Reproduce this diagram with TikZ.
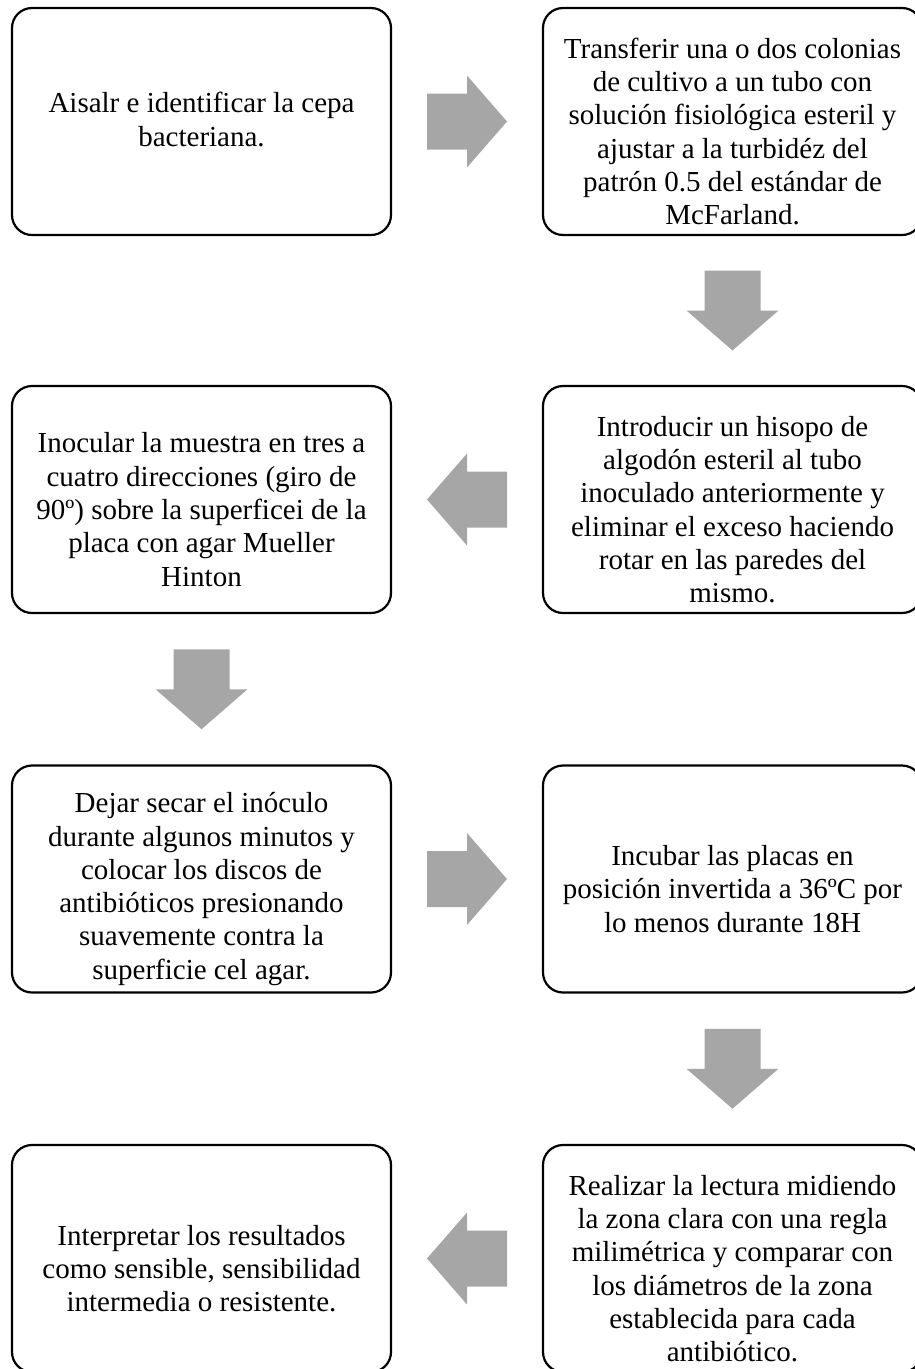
\documentclass[tikz,border=0pt]{standalone}
\usepackage{fontspec}
\setmainfont{Liberation Serif}
\definecolor{arrowgray}{HTML}{A6A6A6}
\begin{document}
\begin{tikzpicture}[x=1pt,y=1pt,
  stepbox/.style={draw=black, line width=2.2pt, rounded corners=20pt, fill=white,
    minimum width=379pt, minimum height=227pt, inner sep=0pt},
  steptext/.style={align=center, inner sep=0pt,
    font=\fontsize{29}{33.3}\selectfont},
  blockarrow/.style={fill=arrowgray, draw=none}]
\useasboundingbox (0,0) rectangle (914,-1369);
\node[stepbox] (b1) at (201.5,-121.5) {};
\node[stepbox] (b2) at (732.5,-121.5) {};
\node[stepbox] (b3) at (732.5,-499.5) {};
\node[stepbox] (b4) at (201.5,-499.5) {};
\node[stepbox] (b5) at (201.5,-879) {};
\node[stepbox] (b6) at (732.5,-879) {};
\node[stepbox] (b7) at (732.5,-1258.5) {};
\node[stepbox] (b8) at (201.5,-1258.5) {};
\node[steptext] (t1) at ([yshift=2pt]b1.center) {Aisalr e identificar la cepa\\bacteriana.};
\node[steptext] (t2) at ([yshift=-10pt]b2.center) {Transferir una o dos colonias\\de cultivo a un tubo con\\solución fisiológica esteril y\\ajustar a la turbidéz del\\patrón 0.5 del estándar de\\McFarland.};
\node[steptext] (t3) at ([yshift=-10pt]b3.center) {Introducir un hisopo de\\algodón esteril al tubo\\inoculado anteriormente y\\eliminar el exceso haciendo\\rotar en las paredes del\\mismo.};
\node[steptext] (t4) at ([yshift=-10pt]b4.center) {Inocular la muestra en tres a\\cuatro direcciones (giro de\\90º) sobre la superficei de la\\placa con agar Mueller\\Hinton};
\node[steptext] (t5) at ([yshift=-10pt]b5.center) {Dejar secar el inóculo\\durante algunos minutos y\\colocar los discos de\\antibióticos presionando\\suavemente contra la\\superficie cel agar.};
\node[steptext] (t6) at ([yshift=-10pt]b6.center) {Incubar las placas en\\posición invertida a 36ºC por\\lo menos durante 18H};
\node[steptext] (t7) at ([yshift=-10pt]b7.center) {Realizar la lectura midiendo\\la zona clara con una regla\\milimétrica y comparar con\\los diámetros de la zona\\establecida para cada\\antibiótico.};
\node[steptext] (t8) at ([yshift=-10pt]b8.center) {Interpretar los resultados\\como sensible, sensibilidad\\intermedia o resistente.};
\newcommand{\blockarr}[3]{%
  \path (#1) -- (#2) coordinate[midway] (m);
  \fill[blockarrow, shift={(m)}, rotate=#3]
    (-40,-28) -- (0,-28) -- (0,-46) -- (40,0) -- (0,46) -- (0,28) -- (-40,28) -- cycle;}
\blockarr{b1.east}{b2.west}{0}
\blockarr{b2.south}{b3.north}{-90}
\blockarr{b3.west}{b4.east}{180}
\blockarr{b4.south}{b5.north}{-90}
\blockarr{b5.east}{b6.west}{0}
\blockarr{b6.south}{b7.north}{-90}
\blockarr{b7.west}{b8.east}{180}
\end{tikzpicture}
\end{document}
